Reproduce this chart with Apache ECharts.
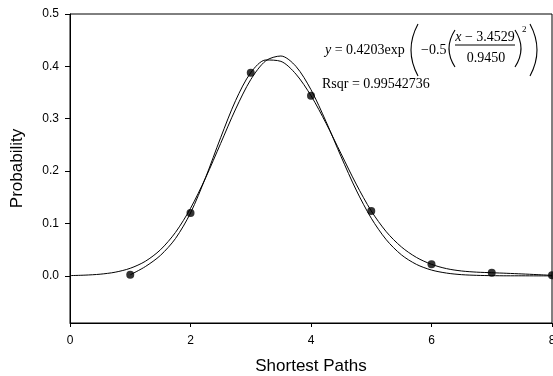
<!DOCTYPE html>
<html>
<head>
<meta charset="utf-8">
<script src="https://cdn.jsdelivr.net/npm/echarts@6/dist/echarts.min.js"></script>
<style>
html,body{margin:0;padding:0;background:#fff;}
#c{width:553px;height:376px;}
</style>
</head>
<body>
<div id="c"></div>
<script>
// Observed data points
var pointX = [1, 2, 3, 4, 5, 6, 7, 8];
var pointY = [0.002, 0.120, 0.388, 0.344, 0.124, 0.022, 0.006, 0.001];

// Gaussian fit curve, values read at x step 0.25 from 0 to 8
var fitX = [0,0.25,0.5,0.75,1,1.25,1.5,1.75,2,2.25,2.5,2.75,3,3.25,3.5,3.75,4,4.25,4.5,4.75,5,5.25,5.5,5.75,6,6.25,6.5,6.75,7,7.25,7.5,7.75,8];
var fitY = [0.0005,0.0014,0.0032,0.0070,0.0145,0.0278,0.0497,0.0829,0.1289,0.1870,0.2528,0.3187,0.3747,0.4107,0.4198,0.4000,0.3554,0.2945,0.2275,0.1639,0.1101,0.0689,0.0402,0.0219,0.0111,0.0053,0.0023,0.0010,0.0004,0.0001,0.0001,0.0000,0.0000];

// Smooth curve through the points, values read at x step 0.25 from 1 to 8
var smoothX = [1,1.25,1.5,1.75,2,2.25,2.5,2.75,3,3.25,3.5,3.75,4,4.25,4.5,4.75,5,5.25,5.5,5.75,6,6.25,6.5,6.75,7,7.25,7.5,7.75,8];
var smoothY = [0.002,0.0177,0.0390,0.0712,0.120,0.1876,0.2638,0.3351,0.388,0.4122,0.4096,0.3852,0.344,0.2913,0.2330,0.1752,0.124,0.0842,0.0553,0.0352,0.022,0.0138,0.0093,0.0071,0.006,0.0049,0.0037,0.0024,0.001];

var xTicks = [0, 2, 4, 6, 8];
var yTicks = [0.0, 0.1, 0.2, 0.3, 0.4, 0.5];

var xTitle = 'Shortest Paths';
var yTitle = 'Probability';
var rsqrText = 'Rsqr = 0.99542736';

function zip(a, b){ return a.map(function(v,i){ return [v, b[i]]; }); }

var chart = echarts.init(document.getElementById('c'), null, {renderer:'canvas'});
var serif = '"Liberation Serif", "Times New Roman", serif';
var sans = '"Liberation Sans", Arial, sans-serif';

var eqY = 50;
function t(x, y, text, font, align, rich){
  var st = {text: text, font: font, fill: '#000', align: align || 'left', verticalAlign: 'middle',
            textAlign: align || 'left', textVerticalAlign: 'middle'};
  if (rich) st.rich = rich;
  return {type: 'text', x: x, y: y, style: st, z: 10};
}
function paren(xEnd, xMid, yTop, yBot){
  return {type: 'bezierCurve', shape: {x1: xEnd, y1: yTop, x2: xEnd, y2: yBot,
          cpx1: 2 * xMid - xEnd, cpy1: (yTop + yBot) / 2},
          style: {stroke: '#000', lineWidth: 1.1, fill: null}, z: 10};
}
var richI = {i: {fontFamily: serif, fontStyle: 'italic', fontSize: 14, fill: '#000', color: '#000'},
             n: {fontFamily: serif, fontSize: 14, fill: '#000', color: '#000'}};

var option = {
  animation: false,
  backgroundColor: '#fff',
  grid: {left: 70, right: 1, top: 14, bottom: 53, show: true, borderColor: '#000', borderWidth: 1,
         outerBoundsMode: 'none', containLabel: false},
  xAxis: {
    type: 'value', min: 0, max: 8, interval: 2,
    name: xTitle, nameLocation: 'middle', nameGap: 35,
    nameTextStyle: {fontFamily: sans, fontSize: 17, color: '#000'},
    axisLine: {onZero: false, lineStyle: {color: '#000', width: 1}},
    axisTick: {show: true, inside: false, length: 4, lineStyle: {color: '#000'}, customValues: xTicks},
    axisLabel: {fontFamily: sans, fontSize: 12, color: '#000', margin: 12, customValues: xTicks},
    splitLine: {show: false}
  },
  yAxis: {
    type: 'value', min: -0.09, max: 0.5,
    name: yTitle, nameLocation: 'middle', nameGap: 44,
    nameTextStyle: {fontFamily: sans, fontSize: 17, color: '#000'},
    axisLine: {show: true, onZero: false, lineStyle: {color: '#000', width: 1}},
    axisTick: {show: true, inside: false, length: 5, lineStyle: {color: '#000'}, customValues: yTicks},
    axisLabel: {fontFamily: sans, fontSize: 12, color: '#000', margin: 11, customValues: yTicks,
      formatter: function(v){ return v.toFixed(1); }},
    splitLine: {show: false}
  },
  series: [
    {type: 'line', data: zip(fitX, fitY), showSymbol: false, smooth: 0.3,
     lineStyle: {color: '#000', width: 1}, silent: true, z: 2},
    {type: 'line', data: zip(smoothX, smoothY), showSymbol: false, smooth: 0.3,
     lineStyle: {color: '#000', width: 1}, silent: true, z: 2},
    {type: 'scatter', data: zip(pointX, pointY), symbol: 'circle', symbolSize: 8,
     itemStyle: {color: '#000'}, z: 3}
  ],
  graphic: [
    t(325, eqY, '{i|y}{n| = 0.4203exp}', '14px ' + serif, 'left', richI),
    paren(418, 411, 24, 76),
    t(421, eqY, '\u22120.5', '14px ' + serif),
    paren(455, 449, 30, 67),
    t(485, eqY - 13, '{i|x}{n| \u2212 3.4529}', '14px ' + serif, 'center', richI),
    {type:'line', shape:{x1:455, y1:eqY - 5, x2:515, y2:eqY - 5}, style:{stroke:'#000', lineWidth:1}, z: 10},
    t(486, eqY + 8, '0.9450', '14px ' + serif, 'center'),
    paren(515, 521, 30, 67),
    t(522, eqY - 20, '2', '9px ' + serif),
    paren(530, 537, 24, 76),
    t(322, 84, rsqrText, '14px ' + serif)
  ]
};
chart.setOption(option);
</script>
</body>
</html>
